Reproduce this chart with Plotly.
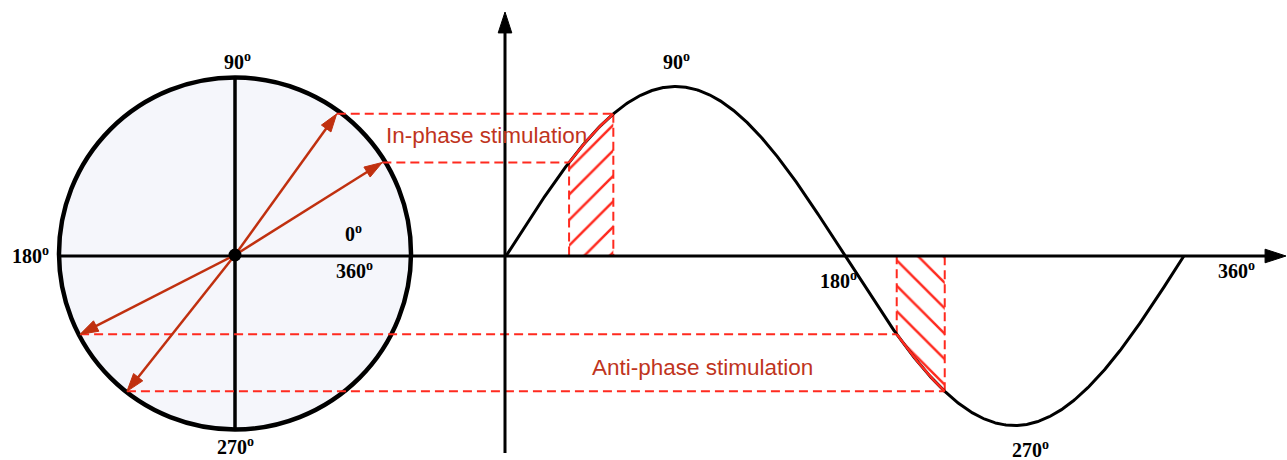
import numpy as np
import plotly.graph_objects as go

# ---------------- data ----------------
in_phase_deg = [33.5, 57.0]        # stimulation window (in-phase), degrees
anti_phase_deg = [207.5, 233.0]    # stimulation window (anti-phase), degrees
circle_labels = ["90", "180", "270", "0", "360"]
sine_labels = ["90", "180", "270", "360"]
window_texts = ["In-phase stimulation", "Anti-phase stimulation"]

# ---------------- geometry (layout constants) ----------------
W, H = 1287, 460
CX, CY, R = 235, 253.5, 176      # circle
OY = 256                          # horizontal axis
SX, KX, AMP = 506, 1.883, 169.5   # sine origin, px per degree, amplitude
TIP_R = 174

BLACK = "#000000"
ARROW_RED = "#c0300f"
DASH_RED = "#ff2a1f"
TEXT_RED = "#c0341d"
DASH = "9px,5px"


def sx(deg):
    return SX + np.asarray(deg) * KX


def sy(deg):
    return OY - AMP * np.sin(np.radians(deg))


def arrow(fig, x0, y0, x1, y1, color, width, head):
    fig.add_trace(go.Scatter(
        x=[x0, x1], y=[y0, y1], mode="lines+markers",
        line=dict(color=color, width=width),
        marker=dict(symbol="arrow", size=[0, head], color=color, opacity=1,
                    angleref="previous", line=dict(width=1, color=color)),
        hoverinfo="skip"))


fig = go.Figure()
shapes = []
annotations = []

# circle
shapes.append(dict(type="circle", xref="x", yref="y", x0=CX - R, x1=CX + R,
                   y0=CY - R, y1=CY + R, fillcolor="#f5f6fb",
                   line=dict(color=BLACK, width=4.5), layer="below"))
# vertical diameter
fig.add_trace(go.Scatter(x=[CX, CX], y=[CY - R, CY + R], mode="lines",
                         line=dict(color=BLACK, width=3.5), hoverinfo="skip"))

# hatch windows
for win, pat in [(in_phase_deg, "/"), (anti_phase_deg, "\\")]:
    d = np.linspace(win[0], win[1], 60)
    px = np.concatenate([sx(d), [sx(win[1]), sx(win[0])]])
    py = np.concatenate([sy(d), [OY, OY]])
    fig.add_trace(go.Scatter(x=px, y=py, mode="lines", fill="toself",
                             fillcolor="rgba(0,0,0,0)",
                             fillpattern=dict(shape=pat, fgcolor=DASH_RED,
                                              fgopacity=1,
                                              bgcolor="rgba(0,0,0,0)",
                                              size=18, solidity=0.14),
                             line=dict(width=0), hoverinfo="skip"))
    for e in win:
        fig.add_trace(go.Scatter(x=[sx(e), sx(e)], y=[sy(e), OY], mode="lines",
                                 line=dict(color=DASH_RED, width=2, dash=DASH),
                                 hoverinfo="skip"))

# sine curve
deg = np.linspace(0, 360, 721)
fig.add_trace(go.Scatter(x=sx(deg), y=sy(deg), mode="lines",
                         line=dict(color=BLACK, width=3), hoverinfo="skip"))

# red curve segments on windows
for win in (in_phase_deg, anti_phase_deg):
    d = np.linspace(win[0], win[1], 60)
    fig.add_trace(go.Scatter(x=sx(d), y=sy(d), mode="lines",
                             line=dict(color=DASH_RED, width=2.5), hoverinfo="skip"))

# dashed projections
tips = []
for a in in_phase_deg + anti_phase_deg:
    ty = float(sy(a))
    dy = ty - (OY - 1)
    dx = np.sqrt(max(TIP_R ** 2 - dy ** 2, 0))
    tx = CX + dx if np.cos(np.radians(a)) > 0 else CX - dx
    tips.append((tx, ty))
    fig.add_trace(go.Scatter(x=[tx, float(sx(a))], y=[ty, ty], mode="lines",
                             line=dict(color=DASH_RED, width=2, dash=DASH),
                             hoverinfo="skip"))

# main axes (arrows)
arrow(fig, CX - R - 1, OY, 1286, OY, BLACK, 3, 22)
arrow(fig, SX - 1, 453, SX - 1, 12, BLACK, 3, 22)

# phasor arrows
for tx, ty in tips:
    arrow(fig, CX, OY - 1, tx, ty, ARROW_RED, 2.5, 19)

# center dot
fig.add_trace(go.Scatter(x=[CX], y=[OY - 1], mode="markers",
                         marker=dict(color=BLACK, size=13), hoverinfo="skip"))

# degree labels
serif = dict(family="Liberation Serif", size=20, color=BLACK)
circ_pos = [(237, 61), (30, 255), (235, 446), (353, 233), (354, 270)]
for t, (x, y) in zip(circle_labels, circ_pos):
    annotations.append(dict(x=x, y=y, xref="x", yref="y", showarrow=False,
                            text="<b>" + t + "<sup>o</sup></b>", font=serif))
sine_pos = [(676, 61), (838, 280), (1030, 449), (1236, 270)]
for t, (x, y) in zip(sine_labels, sine_pos):
    annotations.append(dict(x=x, y=y, xref="x", yref="y", showarrow=False,
                            text="<b>" + t + "<sup>o</sup></b>", font=serif))

# window texts
sans = dict(family="Liberation Sans", size=22.5, color=TEXT_RED)
for t, (x, y) in zip(window_texts, [(486, 135), (702, 367)]):
    annotations.append(dict(x=x, y=y, xref="x", yref="y", showarrow=False,
                            text=t, font=sans))

fig.update_layout(
    width=W, height=H, margin=dict(l=0, r=0, t=0, b=0),
    paper_bgcolor="white", plot_bgcolor="white", showlegend=False,
    shapes=shapes, annotations=annotations,
    xaxis=dict(range=[0, W], visible=False, fixedrange=True),
    yaxis=dict(range=[H, 0], visible=False, fixedrange=True),
)

fig.write_html("out.html", config={"displayModeBar": False},
               post_script="document.body.style.margin='0';"
                           "document.body.style.overflow='hidden';")
